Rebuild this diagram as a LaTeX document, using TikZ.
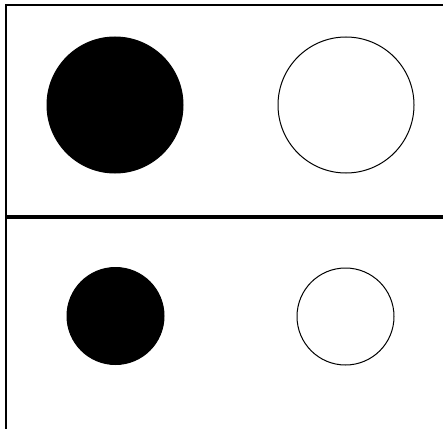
\documentclass[tikz,border=0pt]{standalone}
\usetikzlibrary{positioning}

\begin{document}
\begin{tikzpicture}[
  x=1pt, y=-1pt,
  disc/.style={circle, draw=black, line width=1pt, inner sep=0pt},
  bigdisc/.style={disc, minimum size=136pt},
  smalldisc/.style={disc, minimum size=97pt},
  frame/.style={draw=black, line width=2pt},
  divider/.style={draw=black, line width=3.5pt},
]
\useasboundingbox (0,0) rectangle (443,428);

% ---- panel frame ----
\draw[frame] (6,430) -- (6,5) -- (446,5);
\draw[divider] (5,217) -- (446,217);

% ---- upper panel ----
\node[bigdisc, fill=black] (bigfull) at (115,105) {};
\node[bigdisc, fill=white] (bigempty) at (346,105) {};

% ---- lower panel ----
\node[smalldisc, fill=black] (smallfull) at (115.5,316) {};
\node[smalldisc, fill=white] (smallempty) at (345.5,316.5) {};
\end{tikzpicture}
\end{document}
